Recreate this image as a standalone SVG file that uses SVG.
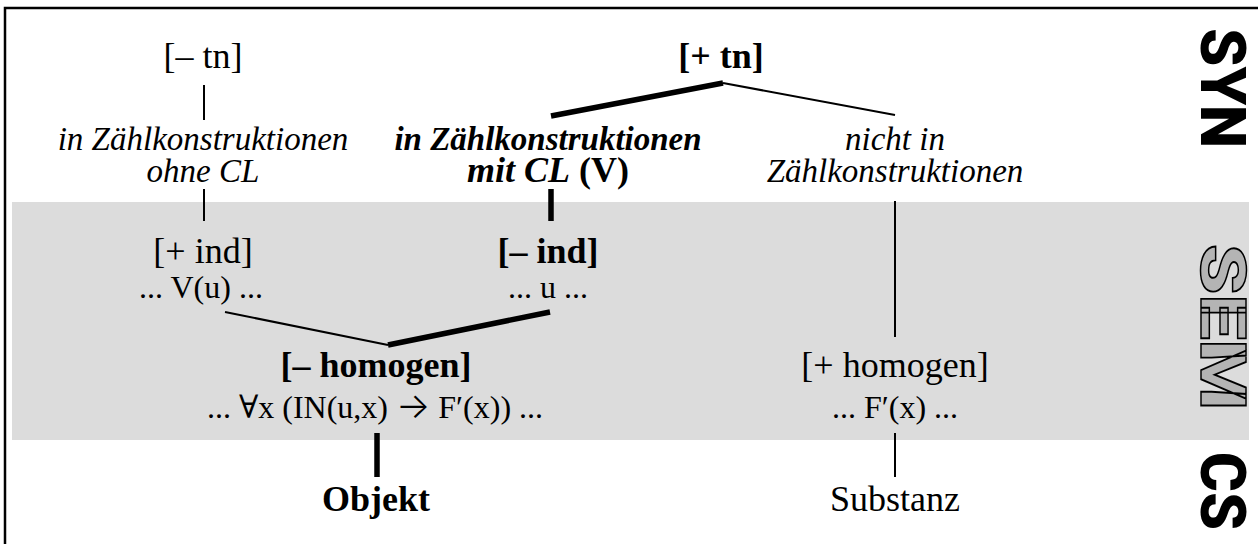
<svg xmlns="http://www.w3.org/2000/svg" width="1258" height="544" viewBox="0 0 1258 544">
  <style>
    .t { font-family: "Liberation Serif", "Times New Roman", serif; font-size: 36px; fill: #000; text-anchor: middle; }
    .f { font-size: 32px; }
    .b { font-weight: bold; }
    .i { font-style: italic; font-size: 33px; }
    .sym { font-family: "DejaVu Serif", "DejaVu Sans", serif; font-weight: normal; }
    .arr { font-family: Inter, "DejaVu Sans", sans-serif; font-size: 36px; font-weight: 300; }
    .thin { stroke: #000; stroke-width: 2; fill: none; }
    .thick { stroke: #000; stroke-width: 5.5; fill: none; }
    .lvl { font-family: Roboto, "DejaVu Sans", sans-serif; font-weight: 900; font-size: 63px; text-anchor: middle; dominant-baseline: central; }
  </style>

  <!-- frame and semantic band -->
  <rect x="5" y="8" width="1270" height="560" fill="#fff" stroke="#000" stroke-width="2.5"/>
  <rect x="12" y="202" width="1237" height="238" fill="#dcdcdc"/>

  <!-- level labels -->
  <g id="level-syn"><text class="lvl" transform="translate(1222 88) rotate(90)" textLength="120" lengthAdjust="spacingAndGlyphs" fill="#000">SYN</text></g>
  <g id="level-sem"><text class="lvl" transform="translate(1222 327) rotate(90)" textLength="166" lengthAdjust="spacingAndGlyphs" fill="#b4b4b4" stroke="#000" stroke-width="1.5">SEM</text></g>
  <g id="level-cs"><text class="lvl" transform="translate(1222 491) rotate(90)" textLength="78" lengthAdjust="spacingAndGlyphs" fill="#000">CS</text></g>

  <!-- connectors -->
  <g id="connectors">
    <line class="thin" x1="204" y1="85" x2="204" y2="120"/>
    <line class="thin" x1="204" y1="189" x2="204" y2="221"/>
    <line class="thick" x1="723" y1="83" x2="551" y2="116"/>
    <line class="thin" x1="723" y1="83" x2="895" y2="115"/>
    <line class="thick" x1="551" y1="189" x2="551" y2="221"/>
    <line class="thin" x1="895" y1="201" x2="895" y2="337"/>
    <line class="thin" x1="225" y1="312" x2="388" y2="345"/>
    <line class="thick" x1="388" y1="345" x2="550" y2="312"/>
    <line class="thick" x1="377" y1="433" x2="377" y2="477"/>
    <line class="thin" x1="895" y1="433" x2="895" y2="477"/>
  </g>

  <!-- syntax level -->
  <g id="node-minus-tn"><text class="t" x="203" y="68">[– tn]</text></g>
  <g id="node-plus-tn"><text class="t b" x="721" y="68">[+ tn]</text></g>
  <g id="node-ohne-cl">
    <text class="t i" x="203" y="150">in Zählkonstruktionen</text>
    <text class="t i" x="203" y="182">ohne CL</text>
  </g>
  <g id="node-mit-cl">
    <text class="t i b" x="548" y="150">in Zählkonstruktionen</text>
    <text class="t b" x="548" y="182" font-size="33"><tspan font-style="italic">mit CL</tspan> (V)</text>
  </g>
  <g id="node-nicht">
    <text class="t i" x="895" y="150">nicht in</text>
    <text class="t i" x="895" y="182">Zählkonstruktionen</text>
  </g>

  <!-- semantic level -->
  <g id="node-plus-ind">
    <text class="t" x="203" y="263">[+ ind]</text>
    <text class="t f" x="201" y="298">... V(u) ...</text>
  </g>
  <g id="node-minus-ind">
    <text class="t b" x="548" y="263">[– ind]</text>
    <text class="t f" x="548" y="298">... u ...</text>
  </g>
  <g id="node-minus-homogen">
    <text class="t b" x="376" y="377">[– homogen]</text>
    <text class="t f" x="375" y="418">... <tspan class="sym">∀</tspan>x (IN(u,x) <tspan class="arr">→</tspan> F′(x)) ...</text>
  </g>
  <g id="node-plus-homogen">
    <text class="t" x="895" y="377">[+ homogen]</text>
    <text class="t f" x="895" y="418">... F′(x) ...</text>
  </g>

  <!-- conceptual level -->
  <g id="node-objekt"><text class="t b" x="376" y="511">Objekt</text></g>
  <g id="node-substanz"><text class="t" x="895" y="511">Substanz</text></g>
</svg>
